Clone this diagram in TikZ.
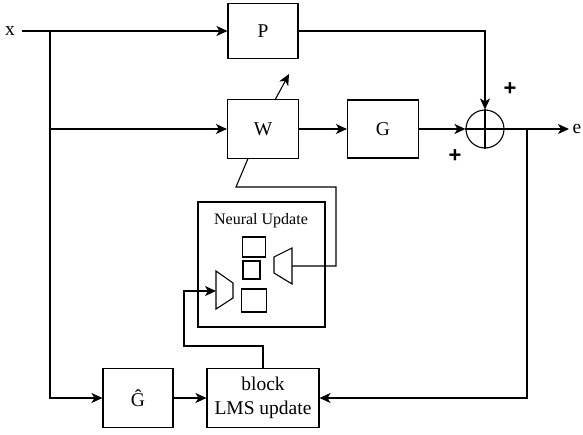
\documentclass[tikz,border=0pt]{standalone}
\usepackage{fontspec}
\setmainfont{Liberation Serif}
\newfontfamily\plusfont{Liberation Sans}
\usetikzlibrary{arrows.meta}
\begin{document}
\begin{tikzpicture}[x=1pt,y=-1pt,
  line width=1.1pt,
  arr/.style={-{Stealth[length=11pt,width=10pt,inset=3pt]}},
  blk/.style={draw,rectangle,inner sep=0pt,font=\fontsize{19.5}{22}\selectfont},
  lbl/.style={inner sep=0pt,font=\fontsize{19.5}{22}\selectfont},
  plus/.style={inner sep=0pt,font=\plusfont\bfseries\fontsize{22}{24}\selectfont},
  small/.style={draw,rectangle,inner sep=0pt}]
\useasboundingbox (0,0) rectangle (583,434);
% blocks
\node[lbl] (xin) at (10,31) {x};
\coordinate (xs) at (22,31);
\coordinate (br) at (50,31);
\node[blk,minimum width=70pt,minimum height=55pt] (P) at (263,31) {P};
\node[blk,minimum width=71pt,minimum height=59pt] (W) at (263,129) {W};
\node[blk,minimum width=71pt,minimum height=58pt] (G) at (383,129) {G};
\node[draw,circle,minimum size=38pt,inner sep=0pt] (sum) at (485,129) {};
\draw (sum.north) -- (sum.south) (sum.west) -- (sum.east);
\node[lbl] (e) at (577,129) {e};
\coordinate (eend) at (569,129);
\coordinate (eb) at (527,129);
\node[plus] (p1) at (510,89) {+};
\node[plus] (p2) at (455,156) {+};
\node[blk,minimum width=70pt,minimum height=59pt] (Gh) at (138,398) {Ĝ};
\node[blk,minimum width=112pt,minimum height=59pt,align=center,font=\fontsize{19.5}{24}\selectfont] (LMS) at (263,398) {block\\LMS update};
% neural update
\node[draw,rectangle,minimum width=127pt,minimum height=125pt] (NU) at (261.5,264.5) {};
\node[inner sep=0pt,font=\fontsize{16}{19}\selectfont] (NUt) at (261,221) {Neural Update};
\node[small,minimum width=23pt,minimum height=20pt] (s1) at (254,247) {};
\node[small,minimum width=17pt,minimum height=18pt] (s2) at (251.5,270) {};
\node[small,minimum width=25pt,minimum height=23pt] (s3) at (254,300.5) {};
\coordinate (tl1) at (216,271);
\coordinate (tl2) at (233,283);
\coordinate (tl3) at (233,298);
\coordinate (tl4) at (216,309);
\draw (tl1) -- (tl2) -- (tl3) -- (tl4) -- cycle;
\coordinate (tin) at (216,291);
\coordinate (tr1) at (292,248);
\coordinate (tr2) at (274,257);
\coordinate (tr3) at (274,273);
\coordinate (tr4) at (292,284);
\draw (tr1) -- (tr2) -- (tr3) -- (tr4) -- cycle;
\coordinate (tout) at (292,266);
% connectors
\draw[arr] (xs) -- (P.west);
\draw[arr] (br) |- (W.west);
\draw[arr] (br) |- (Gh.west);
\draw[arr] (W) -- (G);
\draw[arr] (G) -- (sum.west);
\draw[arr] (P.east) -| (sum.north);
\draw[arr] (sum.east) -- (eend);
\draw[arr] (eb) |- (LMS.east);
\draw[arr] (Gh) -- (LMS);
\coordinate (wa) at (275,100);
\coordinate (wb) at (289,74);
\draw[arr] (wa) -- (wb);
\coordinate (f1) at (336,266);
\coordinate (f2) at (336,187);
\coordinate (f3) at (236,187);
\coordinate (f4) at (248,158.5);
\draw (tout) -- (f1) -- (f2) -- (f3) -- (f4);
\coordinate (l1) at (263,346);
\coordinate (l2) at (184,346);
\coordinate (l3) at (184,291);
\draw[arr] (LMS.north) -- (l1) -- (l2) -- (l3) -- (tin);
\end{tikzpicture}
\end{document}
